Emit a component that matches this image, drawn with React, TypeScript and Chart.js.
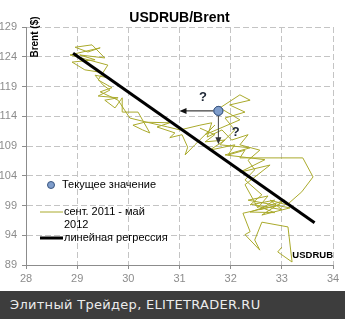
import React, { useEffect, useRef } from "react";
import { Chart, registerables } from "chart.js";

Chart.register(...registerables);

// USDRUB (x) and Brent (y) daily path, sept 2011 - may 2012
const usdrub = [
  31.40, 31.69, 31.50, 31.89, 31.59, 32.08, 31.95, 32.28, 32.18, 33.41,
  33.61, 33.39, 33.10, 32.77, 33.00, 32.47, 32.86, 32.38, 33.06, 32.61,
  33.16, 32.34, 32.73, 32.53, 32.28, 32.77, 32.18, 32.67, 31.89, 32.38,
  31.79, 32.08, 31.89, 32.28, 31.98, 32.38, 32.18, 31.79, 32.18, 31.50,
  31.69, 31.30, 31.11, 31.16, 31.05, 30.81, 30.91, 30.56, 30.81, 30.32,
  30.09, 30.28, 30.42, 30.19, 29.89, 29.88, 29.74, 29.54, 29.80, 29.41,
  29.64, 29.50, 29.35, 29.64, 29.45, 29.15, 28.90, 29.35, 29.05, 29.54,
  29.29, 28.96, 29.21, 29.45, 28.86, 29.60, 29.41, 29.68, 29.45, 29.80,
  30.03, 30.36, 30.77, 31.01, 31.40, 31.63, 31.54, 31.83, 32.02, 32.34,
  32.18, 32.57, 32.34, 32.47, 32.28, 32.61, 32.38, 32.86, 32.57, 32.96,
  32.24, 32.38, 32.28, 32.57, 32.47, 32.61, 33.12, 33.20, 32.92, 33.00,
];
const brent = [
  112.0, 110.9, 109.7, 110.0, 108.3, 109.2, 107.5, 108.3, 107.0, 107.0,
  103.8, 101.3, 99.1, 99.9, 98.3, 99.1, 97.8, 97.9, 99.9, 97.4,
  98.6, 99.9, 100.6, 98.6, 102.5, 105.8, 104.6, 106.7, 107.5, 108.7,
  109.2, 111.7, 113.7, 114.7, 115.9, 116.7, 117.6, 115.4, 113.4, 110.9,
  112.5, 109.2, 107.5, 108.8, 110.9, 110.4, 111.2, 112.2, 112.9, 113.0,
  112.5, 111.7, 111.2, 114.7, 114.7, 117.1, 115.4, 116.7, 117.1, 117.4,
  118.4, 119.3, 120.9, 120.4, 121.4, 121.8, 123.1, 123.5, 124.3, 123.8,
  126.0, 125.6, 124.8, 125.5, 124.3, 122.6, 120.1, 118.8, 118.1, 116.7,
  113.7, 113.0, 112.2, 111.7, 112.5, 112.9, 110.5, 111.7, 110.0, 110.9,
  109.2, 108.3, 106.6, 105.0, 103.3, 100.8, 99.1, 99.9, 98.3, 99.1,
  97.7, 94.6, 94.1, 91.5, 93.2, 96.2, 95.4, 89.5, 91.2, 92.0,
];

const regressionX = [28.92, 33.64];
const regressionY = [124.6, 96.1];

const currentX = [31.76];
const currentY = [114.9];

// arrow end points (data units)
const arrowLeftX = 31.0;
const arrowDownY = 109.3;
const questionMarks = [
  { x: 31.46, y: 117.2 },
  { x: 32.1, y: 111.2 },
];

const xMin = 28, xMax = 34, xStep = 1;
const yMin = 89, yMax = 129, yStep = 5;

const title = "USDRUB/Brent";
const yTitle = "Brent ($)";
const xTitle = "USDRUB";
const legendLabels = ["Текущее значение", ["сент. 2011 - май", "2012"], "линейная регрессия"];
const footerText = "Элитный Трейдер, ELITETRADER.RU";

const OLIVE = "#aaaa2c";
const POINT_FILL = "#7f9dcb";
const POINT_BORDER = "#3a5680";
const FONT = "'Liberation Sans', Arial, sans-serif";

const overlayPlugin = {
  id: "overlay",
  afterDatasetsDraw(chart: any) {
    const { ctx, scales } = chart;
    const xs = scales.x, ys = scales.y;
    const px = xs.getPixelForValue(currentX[0]);
    const py = ys.getPixelForValue(currentY[0]);
    const r = 5;
    ctx.save();
    // horizontal arrow
    const hx = xs.getPixelForValue(arrowLeftX);
    ctx.strokeStyle = "#111";
    ctx.fillStyle = "#111";
    ctx.lineWidth = 1;
    ctx.beginPath();
    ctx.moveTo(px - r, py);
    ctx.lineTo(hx + 5, py);
    ctx.stroke();
    ctx.beginPath();
    ctx.moveTo(hx, py);
    ctx.lineTo(hx + 7, py - 3);
    ctx.lineTo(hx + 7, py + 3);
    ctx.closePath();
    ctx.fill();
    // vertical arrow
    const vy = ys.getPixelForValue(arrowDownY);
    ctx.strokeStyle = "#444";
    ctx.fillStyle = "#333";
    ctx.beginPath();
    ctx.moveTo(px, py + r);
    ctx.lineTo(px, vy - 5);
    ctx.stroke();
    ctx.beginPath();
    ctx.moveTo(px, vy);
    ctx.lineTo(px - 3, vy - 7);
    ctx.lineTo(px + 3, vy - 7);
    ctx.closePath();
    ctx.fill();
    // question marks
    ctx.fillStyle = "#1b2433";
    ctx.font = `bold 13px ${FONT}`;
    ctx.textAlign = "center";
    ctx.textBaseline = "middle";
    questionMarks.forEach((q) => {
      ctx.fillText("?", xs.getPixelForValue(q.x), ys.getPixelForValue(q.y));
    });
    // redraw current point on top
    ctx.beginPath();
    ctx.arc(px, py, 4.5, 0, Math.PI * 2);
    ctx.fillStyle = POINT_FILL;
    ctx.fill();
    ctx.strokeStyle = POINT_BORDER;
    ctx.lineWidth = 1;
    ctx.stroke();
    ctx.restore();
  },
  afterDraw(chart: any) {
    const { ctx, chartArea } = chart;
    ctx.save();
    // y-axis title (inside plot)
    ctx.fillStyle = "#000";
    ctx.font = `bold 10px ${FONT}`;
    ctx.translate(chartArea.left + 9, chartArea.top + 10);
    ctx.rotate(-Math.PI / 2);
    ctx.textAlign = "center";
    ctx.textBaseline = "middle";
    ctx.fillText(yTitle, 0, 0);
    ctx.restore();

    ctx.save();
    ctx.fillStyle = "#000";
    ctx.font = `bold 9.5px ${FONT}`;
    ctx.textAlign = "right";
    ctx.textBaseline = "middle";
    ctx.fillText(xTitle, chartArea.right, chartArea.bottom - 10);

    // legend
    const lx = chartArea.left + 12;
    const tx = chartArea.left + 37;
    ctx.font = `11px ${FONT}`;
    ctx.textAlign = "left";
    ctx.textBaseline = "middle";
    // item 1
    const y1 = 185;
    ctx.beginPath();
    ctx.arc(lx + 13, y1, 3.5, 0, Math.PI * 2);
    ctx.fillStyle = POINT_FILL;
    ctx.fill();
    ctx.strokeStyle = POINT_BORDER;
    ctx.lineWidth = 1;
    ctx.stroke();
    ctx.fillStyle = "#000";
    ctx.fillText(legendLabels[0] as string, tx - 1, y1);
    // item 2
    const y2 = 212;
    ctx.strokeStyle = OLIVE;
    ctx.lineWidth = 1;
    ctx.beginPath();
    ctx.moveTo(lx + 2, y2);
    ctx.lineTo(tx, y2);
    ctx.stroke();
    const l2 = legendLabels[1] as string[];
    ctx.fillStyle = "#000";
    ctx.fillText(l2[0], tx + 1, y2);
    ctx.fillText(l2[1], tx + 1, y2 + 13);
    // item 3
    const y3 = 238;
    ctx.strokeStyle = "#000";
    ctx.lineWidth = 3;
    ctx.beginPath();
    ctx.moveTo(lx + 2, y3);
    ctx.lineTo(tx, y3);
    ctx.stroke();
    ctx.fillText(legendLabels[2] as string, tx + 1, y3);
    ctx.restore();
  },
};

export default function App() {
  const canvasRef = useRef<HTMLCanvasElement | null>(null);

  useEffect(() => {
    const canvas = canvasRef.current;
    if (!canvas) return;
    const pathData = usdrub.map((x, i) => ({ x, y: brent[i] }));
    const regData = regressionX.map((x, i) => ({ x, y: regressionY[i] }));
    const curData = currentX.map((x, i) => ({ x, y: currentY[i] }));
    const gridCommon = {
      color: "#c4c4c4",
      lineWidth: 1,
      drawTicks: true,
      tickLength: 4,
      tickColor: "#8c8c8c",
      tickBorderDash: [],
    };
    const chart = new Chart(canvas, {
      type: "scatter",
      data: {
        datasets: [
          {
            label: "Текущее значение",
            data: curData,
            pointRadius: 4.5,
            pointBackgroundColor: POINT_FILL,
            pointBorderColor: POINT_BORDER,
            pointBorderWidth: 1,
            showLine: false,
          },
          {
            label: "линейная регрессия",
            data: regData,
            showLine: true,
            borderColor: "#000",
            borderWidth: 3,
            pointRadius: 0,
          },
          {
            label: "сент. 2011 - май 2012",
            data: pathData,
            showLine: true,
            borderColor: OLIVE,
            borderWidth: 1,
            pointRadius: 0,
            tension: 0,
          },
        ],
      },
      options: {
        responsive: false,
        animation: false,
        layout: { padding: { right: 12, left: 0, bottom: 0, top: 0 } },
        plugins: {
          legend: { display: false },
          tooltip: { enabled: false },
          title: {
            display: true,
            text: title,
            fullSize: false,
            color: "#000",
            font: { family: FONT, size: 14, weight: "bold" },
            padding: { top: 9.6, bottom: 0.6 },
          },
        },
        scales: {
          x: {
            type: "linear",
            min: xMin,
            max: xMax,
            ticks: {
              stepSize: xStep,
              color: "#8c8c8c",
              font: { family: FONT, size: 11 },
              padding: 3,
            },
            grid: gridCommon,
            border: { display: true, color: "#8c8c8c", width: 1, dash: [6, 3] },
            afterFit: (s: any) => {
              s.height = 26;
            },
          },
          y: {
            type: "linear",
            min: yMin,
            max: yMax,
            ticks: {
              stepSize: yStep,
              color: "#8c8c8c",
              font: { family: FONT, size: 11 },
              padding: 5,
            },
            grid: gridCommon,
            border: { display: true, color: "#8c8c8c", width: 1, dash: [6, 3] },
            afterFit: (s: any) => {
              s.width = 26;
            },
          },
        },
      },
      plugins: [overlayPlugin],
    } as any);
    return () => chart.destroy();
  }, []);

  return (
    <div style={{ position: "fixed", left: 0, top: 0, width: 345, height: 319, background: "#fff" }}>
      <canvas ref={canvasRef} width={345} height={291} style={{ display: "block", width: 345, height: 291 }} />
      <div
        style={{
          height: 28,
          width: 345,
          background: "#3d3d3d",
          color: "#ececec",
          fontFamily: "'DejaVu Sans', Verdana, sans-serif",
          fontSize: 13,
          lineHeight: "28px",
          paddingLeft: 10,
          letterSpacing: "0.3px",
          boxSizing: "border-box",
          whiteSpace: "nowrap",
        }}
      >
        {footerText}
      </div>
    </div>
  );
}
